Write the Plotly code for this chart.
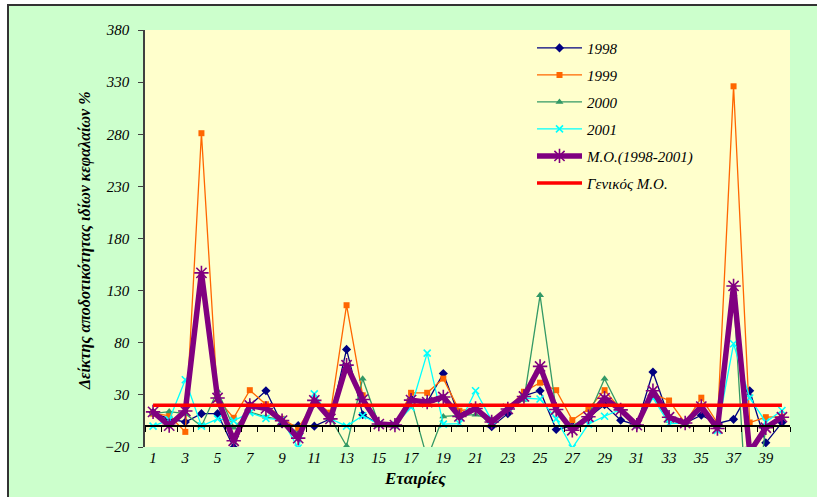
import plotly.graph_objects as go

# Companies 1..40 (x categories)
companies = list(range(1, 41))

# Return on equity index (%) per company and year
roe_1998 = [13, 7, 4, 12, 12, -20.5, 20, 34, 2, 0.5,
            0, 7, 73.6, 11, 2, 1, 26, 23, 50.5, 9,
            17, -0.5, 12, 29, 34, -3.2, 0, 8, 20.5, 5.7,
            1, 52, 8, 3, 10.5, 2.6, 6.5, 34, -16, 3.4]
roe_1999 = [12, 10, -5.5, 281, 26, 8, 34.5, 21, 7, -2,
            23, 13, 116, 29.6, 2, 1, 32, 32, 45.6, 14.8,
            17, 6, 17, 33, 41.7, 34.5, 5.8, 16.5, 34.5, 16,
            1, 31, 24.6, 3, 27.3, 3, 326, 3.5, 8.6, 9]
roe_2000 = [12, 14, 12, 0, 34, -1.5, 13.5, 9, 6, -7,
            24, 8, -19, 45.5, 2, 1, 25, -31, 9.3, 10,
            11, 6, 17, 25, 125.5, 15, 0, 10, 45.5, 15,
            1, 29, 5, 3, 19, -1, 126.5, -130, 0, 8]
roe_2001 = [0, 6, 44.5, 0, 7, 5, 13, 7.5, 6, -21,
            31, 7, 0, 10, 2, 1, 18, 70, 2, 2.5,
            34, 5.5, 17, 27, 26, 7, -21, 2, 9.5, 16,
            1, 27, 2.5, 3, 19, -4, 79, 27, 4, 15]
roe_mean_9801 = [13.7, 0.5, 14.5, 147, 27, -14, 19.8, 17, 5.3, -11.5,
                 24.7, 7, 58.5, 25.5, 2, 1, 25, 23, 28, 9.3,
                 17, 4, 16.5, 28.5, 57.3, 16, -3.9, 9, 26.8, 15.6,
                 1, 34, 8.5, 3, 18.8, -2.3, 134.5, -25, -1.5, 8.6]
general_mean = 20

# Axis ticks
x_tick_labels = [str(c) for c in companies if c % 2 == 1]
y_ticks = [-20, 30, 80, 130, 180, 230, 280, 330, 380]

SERIF = "Liberation Serif"
tick_font = dict(family=SERIF, size=15, color="black", style="italic")

fig = go.Figure()

series = [
    ("1998", roe_1998, "#000080", "diamond", 7, 1.3),
    ("1999", roe_1999, "#FF6600", "square", 6, 1.3),
    ("2000", roe_2000, "#339966", "triangle-up", 7, 1.3),
    ("2001", roe_2001, "#00FFFF", "x-thin-open", 7, 1.3),
]
for i, (name, vals, color, symbol, msize, lw) in enumerate(series):
    fig.add_trace(go.Scatter(
        x=companies, y=vals, name=name, mode="lines+markers",
        line=dict(color=color, width=lw),
        marker=dict(symbol=symbol, size=msize, color=color,
                    line=dict(color=color, width=1.6 if "open" in symbol else 0)),
        legendgroup=f"g{i}", cliponaxis=True,
    ))

fig.add_trace(go.Scatter(
    x=companies, y=roe_mean_9801, name="Μ.Ο.(1998-2001)", mode="lines+markers",
    line=dict(color="#800080", width=5.5),
    marker=dict(symbol="asterisk-open", size=12, color="#800080",
                line=dict(color="#800080", width=1.6)),
    legendgroup="g4",
))

fig.add_trace(go.Scatter(
    x=companies, y=[general_mean] * len(companies), name="Γενικός Μ.Ο.",
    mode="lines", line=dict(color="#FF0000", width=3.5),
    xaxis="x2", yaxis="y", legendgroup="g5",
))

fig.update_layout(
    width=817, height=497,
    margin=dict(l=145, r=27, t=30, b=50),
    paper_bgcolor="white",
    plot_bgcolor="rgba(0,0,0,0)",
    showlegend=True,
    legend=dict(
        x=0.6, y=0.996, xanchor="left", yanchor="top",
        bgcolor="rgba(0,0,0,0)", borderwidth=0,
        font=dict(family=SERIF, size=15, color="black", style="italic"),
        itemwidth=45, tracegroupgap=4.5,
    ),
    xaxis=dict(
        range=[0.5, 40.5], tickmode="array",
        tickvals=[c for c in companies if c % 2 == 1], ticktext=x_tick_labels,
        showgrid=False, zeroline=False, showline=False, ticks="",
        tickfont=tick_font,
    ),
    xaxis2=dict(
        overlaying="x", anchor="free", position=0.05,
        range=[0.5, 40.5], tickmode="linear", tick0=0.5, dtick=1,
        ticks="outside", ticklen=5, tickcolor="black", tickwidth=1,
        showticklabels=False, showline=True, linecolor="black", linewidth=1.5,
        showgrid=False, zeroline=False,
    ),
    yaxis=dict(
        range=[-20, 380], tickmode="array", tickvals=y_ticks,
        showgrid=False, zeroline=False, showline=True,
        linecolor="#404040", linewidth=1.5,
        ticks="outside", ticklen=5, tickcolor="#404040",
        tickfont=tick_font, ticklabelstandoff=6,
    ),
    shapes=[
        # outer chart area with border
        dict(type="rect", xref="paper", yref="paper",
             x0=-0.2124, x1=1.2, y0=-0.3, y1=1.06,
             fillcolor="#CCFFCC", line=dict(color="#333333", width=2),
             layer="below"),
        # plot area
        dict(type="rect", xref="paper", yref="paper",
             x0=0, x1=1, y0=0, y1=1,
             fillcolor="#FFFFCC", line=dict(width=0), layer="below"),
    ],
    annotations=[
        dict(text="<b><i>Εταιρίες</i></b>", xref="paper", yref="paper",
             x=0.419, y=-0.075, xanchor="center", yanchor="middle",
             showarrow=False, font=dict(family=SERIF, size=17, color="black")),
        dict(text="<b><i>Δείκτης αποδοτικότητας ιδίων κεφαλαίων %</i></b>",
             xref="paper", yref="paper", x=-0.093, y=0.494,
             xanchor="center", yanchor="middle", textangle=-90,
             showarrow=False, font=dict(family=SERIF, size=16, color="black")),
    ],
)

fig.write_html("out.html")
